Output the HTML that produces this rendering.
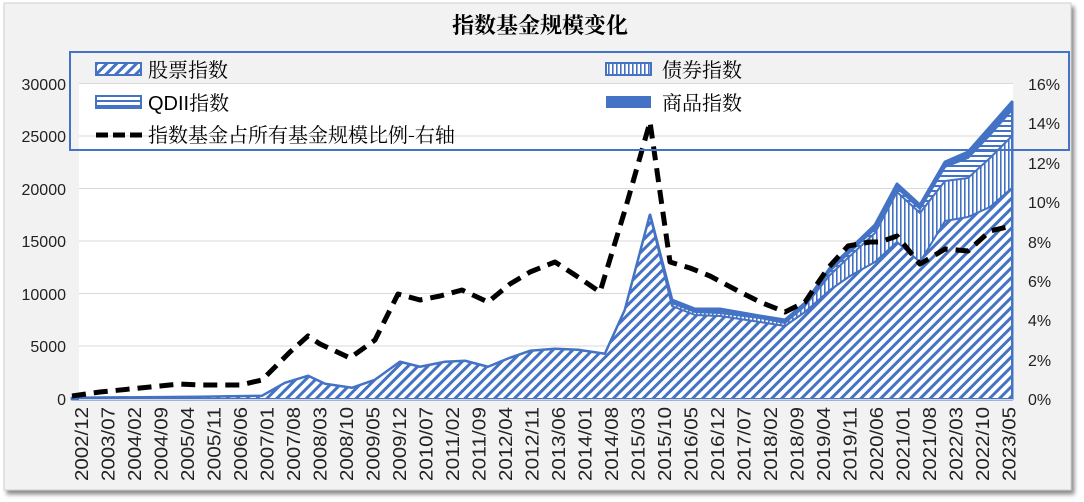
<!DOCTYPE html>
<html><head><meta charset="utf-8"><style>
body{margin:0;background:#fff;}
svg{display:block;}
</style></head><body>
<svg width="1084" height="502" xmlns="http://www.w3.org/2000/svg">
<defs>
<pattern id="diag" width="7" height="7" patternUnits="userSpaceOnUse" patternTransform="rotate(45)">
<rect width="7" height="7" fill="#fff"/><rect x="0" y="0" width="3" height="7" fill="#4472c4"/></pattern>
<pattern id="vert" width="4" height="4" patternUnits="userSpaceOnUse">
<rect width="4" height="4" fill="#fff"/><rect x="0" width="1.6" height="4" fill="#4472c4"/></pattern>
<pattern id="horz" width="4" height="5" patternUnits="userSpaceOnUse">
<rect width="4" height="5" fill="#fff"/><rect y="0" width="4" height="2" fill="#4472c4"/></pattern>
<filter id="sh" x="-5%" y="-5%" width="110%" height="110%"><feDropShadow dx="3" dy="4" stdDeviation="2" flood-color="#000" flood-opacity="0.45"/></filter>
</defs>
<rect width="1084" height="502" fill="#fff"/>
<rect x="4" y="3" width="1067" height="487" fill="#f2f2f2" stroke="#d0d0d0" filter="url(#sh)"/>
<rect x="79" y="83" width="934" height="316" fill="#fff"/>
<g stroke="#d9d9d9" stroke-width="1">
<line x1="79" y1="83.5" x2="1013" y2="83.5"/><line x1="79" y1="136" x2="1013" y2="136"/>
<line x1="79" y1="188.5" x2="1013" y2="188.5"/><line x1="79" y1="241" x2="1013" y2="241"/>
<line x1="79" y1="293.5" x2="1013" y2="293.5"/><line x1="79" y1="346" x2="1013" y2="346"/>
</g>
<polygon fill="#4472c4" stroke="#4472c4" stroke-width="3" stroke-linejoin="round" points="72,399 72,398 200,397 262,396 285,383 308,376 325,384 352,388 375,380 400,362 420,367 445,362 465,361 488,367 510,358 530,351 555,349 578,350 605,354 625,310 650,215 672,300 695,309 720,309 760,316 785,320 805,303 830,268 850,249 875,225 897,184 920,205 945,162 968,152 990,127 1012,102 1012,399"/>
<polygon fill="url(#horz)" stroke="#4472c4" stroke-width="2" stroke-linejoin="round" points="72,399 72,398 200,397 262,396 285,383 308,376 325,384 352,388 375,380 400,362 420,367 445,362 465,361 488,367 510,358 530,351 555,349 578,350 605,354 625,310 650,215 672,302 695,311 720,311 760,317 785,322 805,305 830,271 850,252 875,229 897,188 920,209 945,167 968,158 990,135 1012,110 1012,399"/>
<polygon fill="url(#vert)" stroke="#4472c4" stroke-width="2" stroke-linejoin="round" points="72,399 72,398 200,397 262,396 285,383 308,376 325,384 352,388 375,380 400,362 420,367 445,362 465,361 488,367 510,358 530,351 555,349 578,350 605,354 625,310 650,215 672,303 695,312 720,313 760,318 785,323 805,306 830,275 850,256 875,233 897,192 920,213 945,181 968,178 990,158 1012,136 1012,399"/>
<polygon fill="url(#diag)" stroke="#4472c4" stroke-width="2" stroke-linejoin="round" points="72,399 72,398 200,397 262,396 285,383 308,376 325,384 352,388 375,380 400,362 420,367 445,362 465,361 488,367 510,358 530,351 555,349 578,350 605,354 625,310 650,215 672,306 695,315 720,316 760,322 785,326 805,312 830,290 850,276 875,262 897,242 920,262 945,221 968,217 990,207 1012,188 1012,399"/>
<polyline fill="none" stroke="#000" stroke-width="5" stroke-dasharray="14,8" stroke-linejoin="round" points="72,396 100,392 130,389 160,386 180,384 200,385 240,385 262,380 290,352 308,336 320,344 350,358 375,340 398,294 420,300 440,296 462,290 488,302 510,284 530,272 555,262 575,275 600,292 625,210 650,122 670,262 690,268 710,276 740,292 760,302 785,312 805,302 828,268 848,246 870,242 880,242 897,236 920,264 945,249 968,251 990,231 1012,226"/>
<line x1="79" y1="399.5" x2="1013" y2="399.5" stroke="#d9d9d9"/>
<rect x="70" y="52" width="999" height="98" fill="none" stroke="#4472c4" stroke-width="2"/>
<g font-family="'Noto Serif CJK SC',serif" font-size="20" fill="#000">
<rect x="96" y="63" width="45" height="12" fill="url(#diag)" stroke="#4472c4" stroke-width="2"/>
<text x="148" y="77">股票指数</text>
<rect x="96" y="96" width="45" height="12" fill="url(#horz)" stroke="#4472c4" stroke-width="2"/>
<text x="148" y="110"><tspan font-family="'Liberation Sans',sans-serif">QDII</tspan>指数</text>
<line x1="96" y1="135" x2="142" y2="135" stroke="#000" stroke-width="5" stroke-dasharray="12,5"/>
<text x="148" y="142">指数基金占所有基金规模比例-右轴</text>
<rect x="606" y="63" width="45" height="12" fill="url(#vert)" stroke="#4472c4" stroke-width="2"/>
<text x="662" y="77">债券指数</text>
<rect x="606" y="96" width="45" height="12" fill="#4472c4"/>
<text x="662" y="110">商品指数</text>
</g>
<text x="540" y="33" text-anchor="middle" font-family="'Noto Serif CJK SC',serif" font-weight="bold" font-size="22">指数基金规模变化</text>
<g font-family="'Liberation Sans',sans-serif" font-size="16" fill="#222" text-anchor="end">
<text x="66" y="90">30000</text><text x="66" y="142">25000</text><text x="66" y="195">20000</text>
<text x="66" y="247">15000</text><text x="66" y="300">10000</text><text x="66" y="352">5000</text><text x="66" y="405">0</text>
</g>
<g font-family="'Liberation Sans',sans-serif" font-size="16" fill="#222">
<text x="1028" y="90">16%</text><text x="1028" y="129">14%</text><text x="1028" y="169">12%</text>
<text x="1028" y="208">10%</text><text x="1028" y="248">8%</text><text x="1028" y="287">6%</text>
<text x="1028" y="326">4%</text><text x="1028" y="366">2%</text><text x="1028" y="405">0%</text>
</g>
<g font-family="'Liberation Sans',sans-serif" font-size="18" fill="#222" text-anchor="end">
<text textLength="74" lengthAdjust="spacingAndGlyphs" transform="translate(88,407) rotate(-90)">2002/12</text>
<text textLength="74" lengthAdjust="spacingAndGlyphs" transform="translate(114.5,407) rotate(-90)">2003/07</text>
<text textLength="74" lengthAdjust="spacingAndGlyphs" transform="translate(141,407) rotate(-90)">2004/02</text>
<text textLength="74" lengthAdjust="spacingAndGlyphs" transform="translate(167.5,407) rotate(-90)">2004/09</text>
<text textLength="74" lengthAdjust="spacingAndGlyphs" transform="translate(194,407) rotate(-90)">2005/04</text>
<text textLength="74" lengthAdjust="spacingAndGlyphs" transform="translate(220.5,407) rotate(-90)">2005/11</text>
<text textLength="74" lengthAdjust="spacingAndGlyphs" transform="translate(247,407) rotate(-90)">2006/06</text>
<text textLength="74" lengthAdjust="spacingAndGlyphs" transform="translate(273.5,407) rotate(-90)">2007/01</text>
<text textLength="74" lengthAdjust="spacingAndGlyphs" transform="translate(300,407) rotate(-90)">2007/08</text>
<text textLength="74" lengthAdjust="spacingAndGlyphs" transform="translate(326.5,407) rotate(-90)">2008/03</text>
<text textLength="74" lengthAdjust="spacingAndGlyphs" transform="translate(353,407) rotate(-90)">2008/10</text>
<text textLength="74" lengthAdjust="spacingAndGlyphs" transform="translate(379.5,407) rotate(-90)">2009/05</text>
<text textLength="74" lengthAdjust="spacingAndGlyphs" transform="translate(406,407) rotate(-90)">2009/12</text>
<text textLength="74" lengthAdjust="spacingAndGlyphs" transform="translate(432.5,407) rotate(-90)">2010/07</text>
<text textLength="74" lengthAdjust="spacingAndGlyphs" transform="translate(459,407) rotate(-90)">2011/02</text>
<text textLength="74" lengthAdjust="spacingAndGlyphs" transform="translate(485.5,407) rotate(-90)">2011/09</text>
<text textLength="74" lengthAdjust="spacingAndGlyphs" transform="translate(512,407) rotate(-90)">2012/04</text>
<text textLength="74" lengthAdjust="spacingAndGlyphs" transform="translate(538.5,407) rotate(-90)">2012/11</text>
<text textLength="74" lengthAdjust="spacingAndGlyphs" transform="translate(565,407) rotate(-90)">2013/06</text>
<text textLength="74" lengthAdjust="spacingAndGlyphs" transform="translate(591.5,407) rotate(-90)">2014/01</text>
<text textLength="74" lengthAdjust="spacingAndGlyphs" transform="translate(618,407) rotate(-90)">2014/08</text>
<text textLength="74" lengthAdjust="spacingAndGlyphs" transform="translate(644.5,407) rotate(-90)">2015/03</text>
<text textLength="74" lengthAdjust="spacingAndGlyphs" transform="translate(671,407) rotate(-90)">2015/10</text>
<text textLength="74" lengthAdjust="spacingAndGlyphs" transform="translate(697.5,407) rotate(-90)">2016/05</text>
<text textLength="74" lengthAdjust="spacingAndGlyphs" transform="translate(724,407) rotate(-90)">2016/12</text>
<text textLength="74" lengthAdjust="spacingAndGlyphs" transform="translate(750.5,407) rotate(-90)">2017/07</text>
<text textLength="74" lengthAdjust="spacingAndGlyphs" transform="translate(777,407) rotate(-90)">2018/02</text>
<text textLength="74" lengthAdjust="spacingAndGlyphs" transform="translate(803.5,407) rotate(-90)">2018/09</text>
<text textLength="74" lengthAdjust="spacingAndGlyphs" transform="translate(830,407) rotate(-90)">2019/04</text>
<text textLength="74" lengthAdjust="spacingAndGlyphs" transform="translate(856.5,407) rotate(-90)">2019/11</text>
<text textLength="74" lengthAdjust="spacingAndGlyphs" transform="translate(883,407) rotate(-90)">2020/06</text>
<text textLength="74" lengthAdjust="spacingAndGlyphs" transform="translate(909.5,407) rotate(-90)">2021/01</text>
<text textLength="74" lengthAdjust="spacingAndGlyphs" transform="translate(936,407) rotate(-90)">2021/08</text>
<text textLength="74" lengthAdjust="spacingAndGlyphs" transform="translate(962.5,407) rotate(-90)">2022/03</text>
<text textLength="74" lengthAdjust="spacingAndGlyphs" transform="translate(989,407) rotate(-90)">2022/10</text>
<text textLength="74" lengthAdjust="spacingAndGlyphs" transform="translate(1015.5,407) rotate(-90)">2023/05</text>
</g>
</svg>
</body></html>
